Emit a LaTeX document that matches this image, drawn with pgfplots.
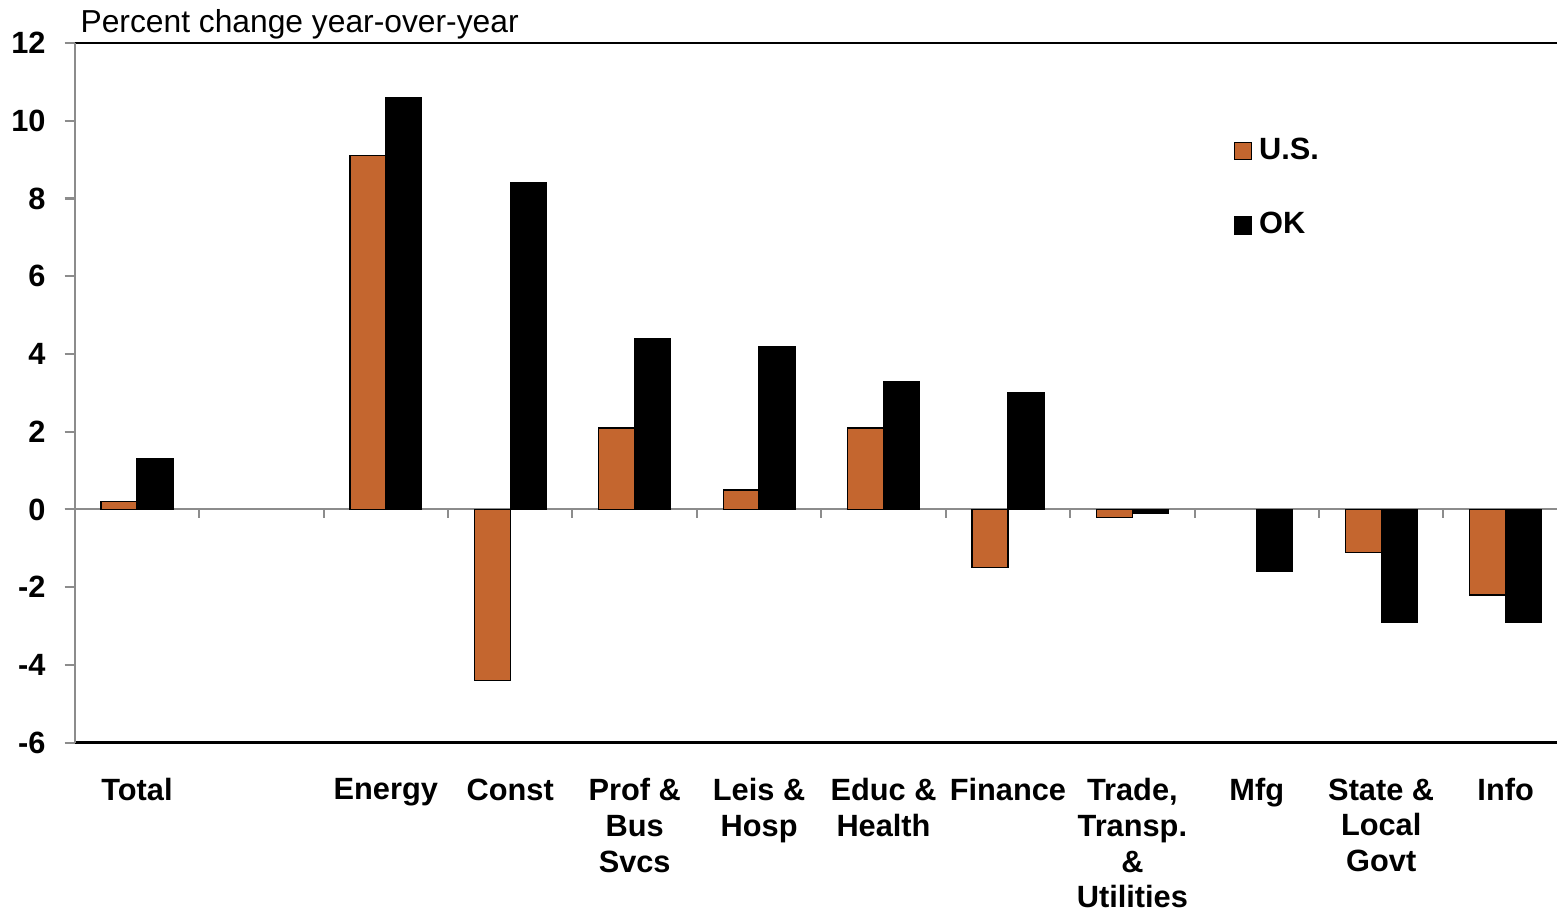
\documentclass[border=0pt]{standalone}
\usepackage{fontspec}
\setmainfont{Liberation Sans}
\usepackage{pgfplots}
\pgfplotsset{compat=1.18}
\definecolor{usorange}{HTML}{C4662F}
\definecolor{axgray}{HTML}{8C8C8C}

\begin{document}
\begin{tikzpicture}
\begin{axis}[
  scale only axis,
  width=433.6pt, height=204.7pt,
  xmin=-0.5, xmax=11.41,
  ymin=-6, ymax=12,
  axis x line=box,
  axis y line=left,
  x axis line style={black, line width=0.8pt, -},
  y axis line style={axgray, line width=0.6pt, -},
  ybar=0pt,
  bar width=10.5pt,
  xtick={0,...,11},
  xticklabels={Total,{},Energy,Const,{Prof \&\\Bus\\Svcs},{Leis \&\\Hosp},{Educ \&\\Health},Finance,{Trade,\\Transp.\\\&\\Utilities},Mfg,{State \&\\Local\\Govt},Info},
  x tick style={draw=none},
  xticklabel style={align=center, font=\fontsize{9}{10.4}\selectfont\bfseries, yshift=-4pt},
  ytick={-6,-4,...,12},
  yticklabels={-6,-4,-2,0,2,4,6,8,10,12},
  y tick style={axgray, line width=0.6pt},
  tick align=outside,
  major tick length=3pt,
  yticklabel style={font=\fontsize{9}{10.4}\selectfont\bfseries, xshift=-2pt},
  legend style={at={(rel axis cs:0.7748,0.885)}, anchor=north west, draw=none, fill=none,
    font=\fontsize{9}{10.4}\selectfont\bfseries, row sep=10pt,
    /tikz/every even column/.append style={column sep=2pt}},
  legend image code/.code={\draw[#1, line width=0.4pt] (0pt,-2.5pt) rectangle (5pt,2.5pt);},
  legend cell align=left,
  clip=false,
]
\draw[axgray, line width=0.6pt] ([xshift=-3pt]axis cs:-0.5,0) -- (axis cs:11.41,0);
\pgfplotsinvokeforeach{0.5,1.5,2.5,3.5,4.5,5.5,6.5,7.5,8.5,9.5,10.5}{
  \draw[axgray, line width=0.6pt] (axis cs:#1,0) -- ([yshift=-2.4pt]axis cs:#1,0);
}
\addplot[fill=usorange, draw=black, line width=0.4pt] coordinates
{(0,0.2) (2,9.1) (3,-4.4) (4,2.1) (5,0.5) (6,2.1) (7,-1.5) (8,-0.2) (10,-1.1) (11,-2.2)};
\addlegendentry{U.S.}
\addplot[fill=black, draw=black, line width=0.4pt] coordinates
{(0,1.3) (2,10.6) (3,8.4) (4,4.4) (5,4.2) (6,3.3) (7,3.0) (8,-0.1) (9,-1.6) (10,-2.9) (11,-2.9)};
\addlegendentry{OK}
\node[anchor=base west, font=\fontsize{9.3}{11}\selectfont, inner sep=0pt]
  at ([xshift=1.5pt, yshift=3pt]rel axis cs:0,1) {Percent change year-over-year};
\path ([yshift=12.6pt]rel axis cs:0,1) -- ([yshift=-47.6pt]rel axis cs:0,0);
\end{axis}
\end{tikzpicture}
\end{document}
